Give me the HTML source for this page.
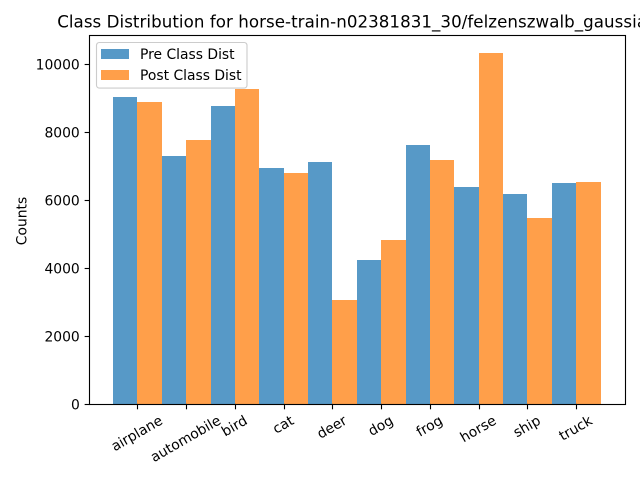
<!DOCTYPE html>
<html lang="en">
<head>
<meta charset="utf-8">
<title>Class Distribution</title>
<style>
  html, body { margin: 0; padding: 0; background: #ffffff; }
  body { width: 640px; height: 480px; overflow: hidden; }
  svg { display: block; }
  text { font-family: "DejaVu Sans", "Liberation Sans", sans-serif; fill: #000000; }
</style>
</head>
<body>
<svg id="chart" xmlns="http://www.w3.org/2000/svg" width="640" height="480" viewBox="0 0 640 480">
  <rect x="0" y="0" width="640" height="480" fill="#ffffff"/>
  <g id="bars"></g>
  <g id="x-axis"></g>
  <g id="y-axis"></g>
  <g fill="none" stroke="#000000" stroke-width="1.11">
    <rect x="89.5" y="35.5" width="536" height="369"/>
  </g>
  <text x="57.2" y="27.5" font-size="16.67" letter-spacing="0.055">Class Distribution for horse-train-n02381831_30/felzenszwalb_gaussian</text>
  <text x="0" y="0" font-size="13.89" text-anchor="middle" transform="translate(26.5 221) rotate(-90)">Counts</text>
  <g>
    <rect x="96.5" y="42.5" width="150.5" height="45.6" rx="2.8" fill="#ffffff" fill-opacity="0.8" stroke="#cccccc" stroke-width="1.11"/>
    <rect x="101" y="49" width="28" height="10" fill="#1f77b4" fill-opacity="0.75"/>
    <text x="140" y="59" font-size="13.89">Pre Class Dist</text>
    <rect x="101" y="70" width="28" height="10" fill="#ff7f0e" fill-opacity="0.75"/>
    <text x="140" y="80" font-size="13.89">Post Class Dist</text>
  </g>
</svg>
<script>
const categories = ["airplane", "automobile", "bird", "cat", "deer", "dog", "frog", "horse", "ship", "truck"];
const preValues = [9028, 7290, 8763, 6937, 7114, 4228, 7615, 6378, 6172, 6496];
const postValues = [8880, 7760, 9263, 6790, 3050, 4817, 7173, 10334, 5465, 6525];
const yTicks = [0, 2000, 4000, 6000, 8000, 10000];

const NS = "http://www.w3.org/2000/svg";
const plotLeft = 88.65, plotRight = 624.9, plotTop = 35.5, plotBottom = 403.9;
const frameLeft = 89.5;
const barWidth = 0.5;
const xMin = -1;
const xMax = categories.length;
const yMax = Math.max(...preValues, ...postValues) * 1.05;

function xScale(v) { return plotLeft + (v - xMin) / (xMax - xMin) * (plotRight - plotLeft); }
function yScale(v) { return plotBottom - v / yMax * (plotBottom - plotTop); }

const barsGroup = document.getElementById("bars");
const xGroup = document.getElementById("x-axis");
const yGroup = document.getElementById("y-axis");

function drawBar(index, value, offset, color) {
  const left = Math.round(xScale(index + offset));
  const right = Math.round(xScale(index + offset + barWidth));
  const top = Math.round(yScale(value));
  const r = document.createElementNS(NS, "rect");
  r.setAttribute("x", left);
  r.setAttribute("y", top);
  r.setAttribute("width", right - left);
  r.setAttribute("height", Math.round(plotBottom) - top);
  r.setAttribute("fill", color);
  r.setAttribute("fill-opacity", "0.75");
  barsGroup.appendChild(r);
  return r;
}

categories.forEach(function (name, i) {
  const pre = drawBar(i, preValues[i], -barWidth, "#1f77b4");
  
  
  const post = drawBar(i, postValues[i], 0, "#ff7f0e");
  
  

  const tx = xScale(i);
  const tick = document.createElementNS(NS, "line");
  
  
  tick.setAttribute("x1", Math.round(tx) + 0.5);
  tick.setAttribute("x2", Math.round(tx) + 0.5);
  tick.setAttribute("y1", plotBottom);
  tick.setAttribute("y2", plotBottom + 5.4);
  tick.setAttribute("stroke", "#000000");
  tick.setAttribute("stroke-width", "1.11");
  xGroup.appendChild(tick);

  const label = document.createElementNS(NS, "text");
  
  
  label.setAttribute("font-size", "13.89");
  label.setAttribute("text-anchor", "middle");
  label.textContent = name;
  xGroup.appendChild(label);
  const w = label.getComputedTextLength();
  const h = 13;
  const boxHeight = w * 0.5 + h * 0.866;
  const cy = plotBottom + 9.72 + boxHeight / 2;
  label.setAttribute("transform", "translate(" + (tx - 0.5) + " " + cy + ") rotate(-30) translate(0 4.6)");
});

yTicks.forEach(function (v) {
  const y = Math.round(yScale(v));
  const tick = document.createElementNS(NS, "line");
  
  
  tick.setAttribute("x1", frameLeft - 4.86);
  tick.setAttribute("x2", frameLeft);
  tick.setAttribute("y1", y + 0.5);
  tick.setAttribute("y2", y + 0.5);
  tick.setAttribute("stroke", "#000000");
  tick.setAttribute("stroke-width", "1.11");
  yGroup.appendChild(tick);

  const label = document.createElementNS(NS, "text");
  
  
  label.setAttribute("x", frameLeft - 9.72);
  label.setAttribute("y", y + 5.5);
  label.setAttribute("font-size", "13.89");
  label.setAttribute("text-anchor", "end");
  label.textContent = String(v);
  yGroup.appendChild(label);
});
</script>
</body>
</html>
